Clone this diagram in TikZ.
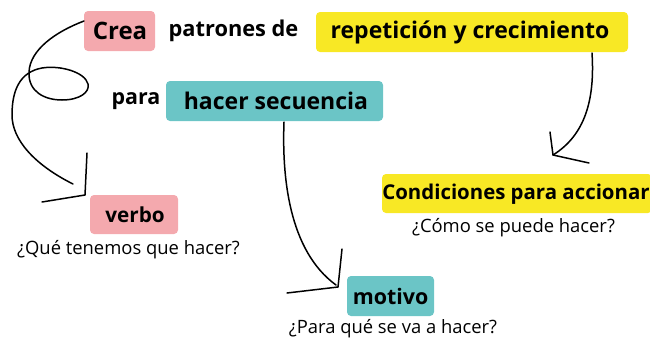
\documentclass[tikz,border=0pt]{standalone}
\usepackage{fontspec}
\setmainfont{Open Sans}
\definecolor{cpink}{HTML}{F4A9AE}
\definecolor{cyellow}{HTML}{F8E825}
\definecolor{cteal}{HTML}{6BC5C6}
\begin{document}
\begin{tikzpicture}[x=1pt,y=-1pt,
  lbl/.style={inner sep=0pt,anchor=center,font=\fontsize{#1}{22}\selectfont\bfseries},
  q/.style={inner sep=0pt,anchor=center,font=\fontsize{18.4}{20}\selectfont},
  ln/.style={line width=1.5pt,line cap=round,line join=round}]
\useasboundingbox (0,0) rectangle (650,341);
% boxes
\fill[cpink,rounded corners=4pt] (84,11) rectangle (155,51);
\node[lbl=24] (crea) at (120,31) {Crea};
\node[lbl=21.8] (patrones) at (233.5,31) {patrones de};
\fill[cyellow,rounded corners=4pt] (316,12) rectangle (628,52);
\node[lbl=23] (rep) at (470,32) {repetición y crecimiento};
\node[lbl=21.4] (para) at (136,101) {para};
\fill[cteal,rounded corners=4pt] (166,81) rectangle (383,121);
\node[lbl=23] (hacer) at (276,101) {hacer secuencia};
\fill[cyellow,rounded corners=4pt] (382,174) rectangle (652,213);
\node[lbl=20.4] (cond) at (516,194) {Condiciones para accionar};
\node[q] (como) at (513.5,228) {¿Cómo se puede hacer?};
\fill[cpink,rounded corners=4pt] (90,195) rectangle (178,234);
\node[lbl=20.7] (verbo) at (135,214.5) {verbo};
\node[q] (que) at (128.5,250) {¿Qué tenemos que hacer?};
\fill[cteal,rounded corners=4pt] (347,276) rectangle (434,316);
\node[lbl=21.4] (motivo) at (390.5,296) {motivo};
\node[q] (paraq) at (393,329) {¿Para qué se va a hacer?};
% connectors
\coordinate (a0) at (84,21);
\coordinate (a1) at (73,184);
\coordinate (av) at (85,195);
\draw[ln] (a0) .. controls (55,32) and (30,50) .. (29,72)
  .. controls (28,92) and (45,100) .. (62,100)
  .. controls (80,100) and (90,92) .. (88,84)
  .. controls (85,72) and (60,65) .. (42,68)
  .. controls (20,72) and (12,90) .. (12,115)
  .. controls (12,140) and (35,165) .. (a1);
\draw[ln] (87,153) -- (av) -- (42,202);
\coordinate (b1) at (336,285);
\draw[ln] (284,122) .. controls (282,175) and (288,250) .. (b1);
\draw[ln] (342,249) -- (338,287) -- (287,293);
\coordinate (c1) at (553,155);
\draw[ln] (592,53) .. controls (595,100) and (585,135) .. (c1);
\draw[ln] (550,132) -- (553,155) -- (589,163);
\end{tikzpicture}
\end{document}
